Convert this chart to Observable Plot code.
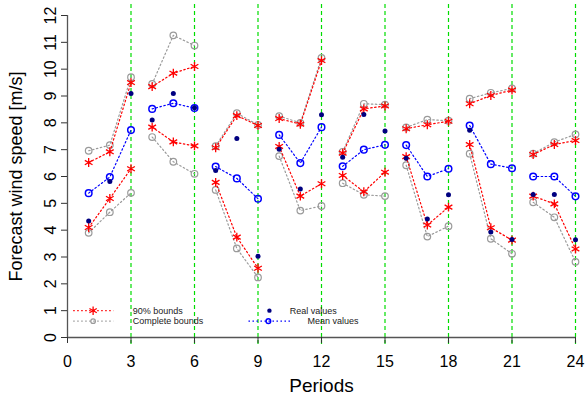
<!DOCTYPE html>
<html><head><meta charset="utf-8">
<script src="https://cdn.jsdelivr.net/npm/d3@7"></script>
<script src="https://cdn.jsdelivr.net/npm/@observablehq/plot@0.6"></script>
<style>body{margin:0;background:#fff}svg{display:block}</style>
</head><body><div id="chart"></div>
<script>
const periods = d3.range(1, 25);
const up90  = [6.52, 6.92, 9.50, 9.35, 9.85, 10.10, 7.07, 8.27, 7.90, 8.16, 7.95, 10.32, 6.87, 8.52, 8.63, 7.78, 7.93, 8.06, 8.71, 9.02, 9.22, 6.82, 7.19, 7.34];
const lo90  = [4.10, 5.18, 6.29, 7.84, 7.29, 7.14, 5.78, 3.74, 2.58, 7.12, 5.27, 5.73, 6.04, 5.43, 6.16, 6.74, 4.19, 4.86, 7.19, 4.09, 3.63, 5.27, 4.98, 3.30];
const upAll = [6.96, 7.17, 9.70, 9.45, 11.26, 10.88, 7.13, 8.36, 7.92, 8.25, 8.00, 10.42, 6.92, 8.71, 8.68, 7.83, 8.12, 8.08, 8.90, 9.12, 9.28, 6.85, 7.28, 7.57];
const loAll = [3.90, 4.67, 5.39, 7.47, 6.55, 6.10, 5.50, 3.32, 2.24, 6.76, 4.73, 4.90, 5.75, 5.32, 5.27, 6.42, 3.76, 4.15, 6.85, 3.68, 3.12, 5.04, 4.48, 2.82];
const meanV = [5.38, 5.98, 7.73, 8.52, 8.73, 8.55, 6.37, 5.93, 5.17, 7.55, 6.50, 7.84, 6.38, 7.00, 7.18, 7.17, 6.00, 6.29, 7.90, 6.46, 6.31, 6.00, 6.00, 5.26];
const realV = [4.34, 5.81, 9.09, 8.11, 9.09, 8.56, 6.22, 7.42, 3.03, 7.02, 5.53, 8.30, 6.72, 8.31, 7.70, 6.68, 4.42, 5.32, 7.72, 3.93, 3.65, 5.33, 5.33, 3.64];
const xTicks = [0, 3, 6, 9, 12, 15, 18, 21, 24];
const yTicks = d3.range(0, 13);
const dividers = [3, 6, 9, 12, 15, 18, 21, 24];
const legendLabels = ["90% bounds", "Complete bounds", "Real values", "Mean values"];

const rows = periods.map((p, i) => ({p, g: Math.ceil(p / 3), up90: up90[i], lo90: lo90[i], upAll: upAll[i], loAll: loAll[i], mean: meanV[i], real: realV[i]}));

const RED = "#ff0000", GREY = "#9a9a9a", BLUE = "#0000ff", NAVY = "#000080", GREEN = "#00dd00";
const font = "'Liberation Sans', Arial, sans-serif";
const dash = "1.5,2.5";

// legend layout (x/y in data units)
const leg = [
  {x1: 0.27, x2: 2.17, xm: 1.21, y: 1.0, tx: 3.08, text: legendLabels[0]},
  {x1: 0.27, x2: 2.17, xm: 1.21, y: 0.61, tx: 3.08, text: legendLabels[1]},
  {xm: 9.54, y: 1.0, tx: 10.5, text: legendLabels[2]},
  {x1: 8.55, x2: 10.53, xm: 9.49, y: 0.61, tx: 11.34, text: legendLabels[3]}
];

const plot = Plot.plot({
  width: 585, height: 401,
  marginLeft: 67, marginRight: 10, marginTop: 15, marginBottom: 64,
  style: {fontFamily: font, background: "#fff", overflow: "visible", color: "#000"},
  x: {domain: [0, 24], axis: null},
  y: {domain: [0, 12], axis: null},
  marks: [
    Plot.ruleX(dividers, {stroke: GREEN, strokeWidth: 1.2, strokeDasharray: "4,3", insetTop: -11, insetBottom: -10}),
    Plot.ruleY([0], {stroke: "#555", strokeWidth: 1.3}),
    Plot.ruleX([0], {stroke: "#555", strokeWidth: 1.3}),
    Plot.axisX({ticks: xTicks, tickSize: 6, tickPadding: 12, fontSize: 16, label: null, tickFormat: d => String(d), stroke: "#333"}),
    Plot.ruleY(yTicks, {y: d => d, x1: 0, x2: 0, insetLeft: -6, stroke: "#333"}),
    Plot.text(yTicks, {y: d => d, frameAnchor: "left", dx: -17, rotate: -90, text: d => String(d), fontSize: 16, textAnchor: "middle", lineAnchor: "middle"}),
    Plot.text(["Periods"], {frameAnchor: "bottom", dy: 48, text: d => d, fontSize: 19, lineAnchor: "middle"}),
    Plot.text(["Forecast wind speed [m/s]"], {frameAnchor: "left", dx: -51, rotate: -90, text: d => d, fontSize: 18, textAnchor: "middle", lineAnchor: "middle"}),

    // complete bounds
    Plot.line(rows, {x: "p", y: "upAll", z: "g", stroke: GREY, strokeWidth: 1.2, strokeDasharray: dash}),
    Plot.line(rows, {x: "p", y: "loAll", z: "g", stroke: GREY, strokeWidth: 1.2, strokeDasharray: dash}),
    Plot.dot(rows, {x: "p", y: "upAll", r: 3.3, stroke: GREY, strokeWidth: 1.2}),
    Plot.dot(rows, {x: "p", y: "loAll", r: 3.3, stroke: GREY, strokeWidth: 1.2}),
    // 90% bounds
    Plot.line(rows, {x: "p", y: "up90", z: "g", stroke: RED, strokeWidth: 1.2, strokeDasharray: dash}),
    Plot.line(rows, {x: "p", y: "lo90", z: "g", stroke: RED, strokeWidth: 1.2, strokeDasharray: dash}),
    Plot.dot(rows, {x: "p", y: "up90", r: 4.2, symbol: "asterisk", stroke: RED, strokeWidth: 1.3}),
    Plot.dot(rows, {x: "p", y: "lo90", r: 4.2, symbol: "asterisk", stroke: RED, strokeWidth: 1.3}),
    // mean
    Plot.line(rows, {x: "p", y: "mean", z: "g", stroke: BLUE, strokeWidth: 1.2, strokeDasharray: dash}),
    Plot.dot(rows, {x: "p", y: "mean", r: 3.3, stroke: BLUE, strokeWidth: 1.5}),
    // real
    Plot.dot(rows, {x: "p", y: "real", r: 2.5, fill: NAVY}),

    // legend
    Plot.link([leg[0]], {x1: "x1", x2: "x2", y1: "y", y2: "y", stroke: RED, strokeWidth: 1.1, strokeDasharray: dash}),
    Plot.dot([leg[0]], {x: "xm", y: "y", r: 4, symbol: "asterisk", stroke: RED, strokeWidth: 1.3}),
    Plot.link([leg[1]], {x1: "x1", x2: "x2", y1: "y", y2: "y", stroke: GREY, strokeWidth: 1.1, strokeDasharray: dash}),
    Plot.dot([leg[1]], {x: "xm", y: "y", r: 2.3, stroke: GREY, strokeWidth: 1.2}),
    Plot.dot([leg[2]], {x: "xm", y: "y", r: 2.2, fill: NAVY}),
    Plot.link([leg[3]], {x1: "x1", x2: "x2", y1: "y", y2: "y", stroke: BLUE, strokeWidth: 1.1, strokeDasharray: dash}),
    Plot.dot([leg[3]], {x: "xm", y: "y", r: 2.3, stroke: BLUE, strokeWidth: 1.5}),
    Plot.text(leg, {x: "tx", y: "y", text: "text", textAnchor: "start", fontSize: 9, fill: "#222"})
  ]
});
document.getElementById("chart").appendChild(plot);
</script>
</body></html>
